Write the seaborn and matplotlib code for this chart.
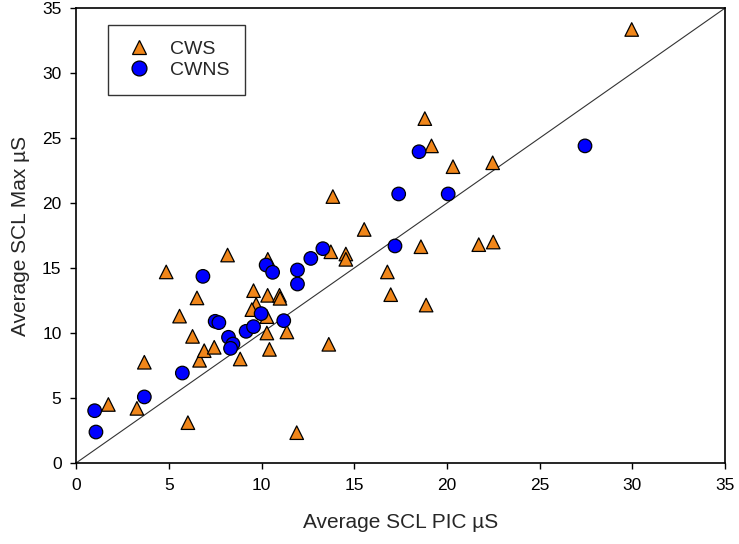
import pandas as pd
import matplotlib.pyplot as plt
import seaborn as sns

# CWS group (triangles)
cws_x = [1.74, 3.28, 3.68, 4.86, 5.58, 6.03, 6.28, 6.52, 6.66, 6.91, 7.45, 8.17, 8.85,
         9.57, 9.71, 9.48, 10.29, 10.33, 10.34, 10.29, 10.43, 10.97, 11.0, 11.37, 11.9,
         13.74, 13.63, 14.55, 14.55, 15.54, 16.79, 16.97, 13.85, 18.6, 21.72, 22.5,
         18.88, 29.97, 18.81, 19.17, 20.33, 22.47]
cws_y = [4.5, 4.2, 7.75, 14.7, 11.3, 3.1, 9.74, 12.7, 7.9, 8.64, 8.9, 16.0, 8.0,
         13.26, 12.2, 11.8, 11.26, 12.9, 15.67, 10.0, 8.74, 12.9, 12.67, 10.08, 2.33,
         16.25, 9.13, 16.08, 15.67, 17.97, 14.7, 12.95, 20.5, 16.64, 16.8, 17.0,
         12.15, 33.36, 26.5, 24.4, 22.8, 23.1]

# CWNS group (circles)
cwns_x = [1.0, 1.07, 3.68, 5.73, 6.84, 7.5, 7.7, 8.22, 8.46, 8.33, 9.17, 9.57, 9.98,
          10.25, 10.6, 11.2, 11.94, 11.94, 12.66, 13.31, 17.2, 17.4, 18.5, 20.07, 27.45]
cwns_y = [4.02, 2.38, 5.08, 6.92, 14.36, 10.9, 10.8, 9.67, 9.15, 8.82, 10.13, 10.49, 11.49,
          15.23, 14.67, 10.95, 14.85, 13.77, 15.74, 16.49, 16.7, 20.7, 23.95, 20.7, 24.4]

df = pd.DataFrame({
    "pic": cws_x + cwns_x,
    "max": cws_y + cwns_y,
    "group": ["CWS"] * len(cws_x) + ["CWNS"] * len(cwns_x),
})

sns.set_style("white")
plt.rcParams['font.family'] = ['Liberation Sans', 'DejaVu Sans']

fig = plt.figure(figsize=(7.39, 5.44), dpi=100)
ax = fig.add_axes([0.103, 0.149, 0.878, 0.836])

# identity line
ax.plot([0, 35], [0, 35], color="#333333", lw=0.8, zorder=1)

sns.scatterplot(data=df, x="pic", y="max", hue="group", style="group",
                palette={"CWS": "#F0861A", "CWNS": "#0000FF"},
                markers={"CWS": "^", "CWNS": "o"},
                s=95, edgecolor="black", linewidth=0.9, ax=ax, zorder=3)

ax.set_xlim(0, 35)
ax.set_ylim(0, 35)
ax.set_xticks(range(0, 36, 5))
ax.set_yticks(range(0, 36, 5))
ax.tick_params(axis="both", direction="out", length=4.5, width=1, labelsize=12.5, pad=6,
               bottom=True, left=True, top=False, right=False, colors="black")
for sp in ax.spines.values():
    sp.set_color("black")
    sp.set_linewidth(1.2)

ax.set_xlabel("Average SCL PIC µS", fontsize=15, labelpad=15)
ax.set_ylabel("Average SCL Max µS", fontsize=15, labelpad=9)

handles, labels = ax.get_legend_handles_labels()
leg = ax.legend(handles, labels, loc="upper left", bbox_to_anchor=(0.049, 0.964),
                borderaxespad=0, frameon=True, fancybox=False, edgecolor="black",
                fontsize=14, handletextpad=0.8, borderpad=0.8, labelspacing=0.2,
                handlelength=1.6, markerscale=1.1)
leg.get_frame().set_linewidth(1.0)

fig.savefig("out.png", dpi=100)
